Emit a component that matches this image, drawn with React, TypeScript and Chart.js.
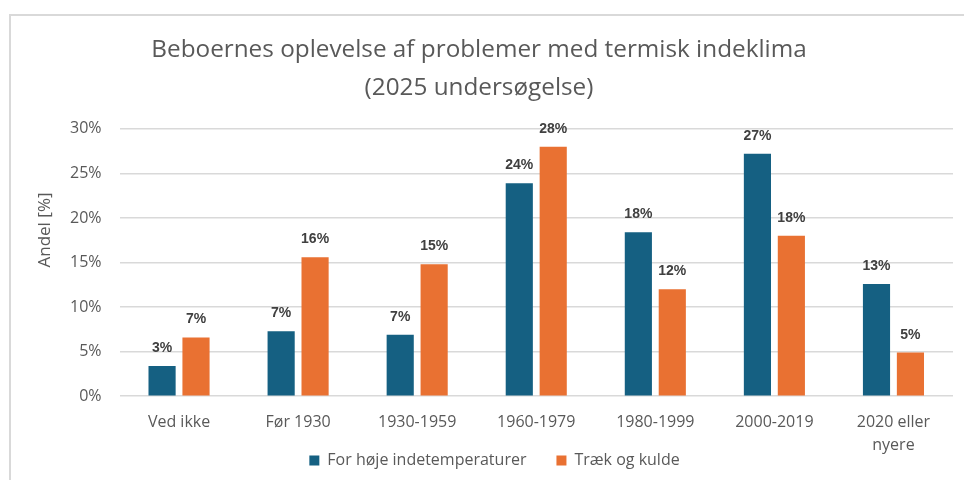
import React, { useEffect, useRef } from "react";
import { Chart, registerables } from "chart.js";

Chart.register(...registerables);

const titleLines = ["Beboernes oplevelse af problemer med termisk indeklima", "(2025 undersøgelse)"];
const categories = [["Ved ikke"], ["Før 1930"], ["1930-1959"], ["1960-1979"], ["1980-1999"], ["2000-2019"], ["2020 eller", "nyere"]];
const seriesNames = ["For høje indetemperaturer", "Træk og kulde"];
const hotValues = [3.4, 7.3, 6.9, 23.9, 18.4, 27.2, 12.6];
const draftValues = [6.6, 15.6, 14.8, 28.0, 12.0, 18.0, 4.9];
const yAxisTitle = "Andel [%]";
const yMin = 0;
const yMax = 30;
const yStep = 5;

const BLUE = "#156082";
const ORANGE = "#E97132";
const GRAY_TEXT = "#595959";
const FONT = "'Open Sans', Lato, sans-serif";

const valueLabels = {
  id: "valueLabels",
  afterDatasetsDraw(chart: any) {
    const ctx = chart.ctx;
    ctx.save();
    ctx.font = "bold 14px 'Liberation Sans', Arial, sans-serif";
    ctx.fillStyle = "#404040";
    ctx.textAlign = "center";
    ctx.textBaseline = "alphabetic";
    chart.data.datasets.forEach((ds: any, i: number) => {
      const meta = chart.getDatasetMeta(i);
      meta.data.forEach((bar: any, j: number) => {
        ctx.fillText(Math.round(ds.data[j]) + "%", bar.x, bar.y - 14);
      });
    });
    ctx.restore();
  },
};

const yTitlePlugin = {
  id: "yTitlePlugin",
  afterLayout(chart: any) {
    // centre the title over the whole figure rather than the padded box
    const t = chart.titleBlock;
    if (t) {
      const shift = 964 / 2 - 3 - (t.left + t.right) / 2;
      t.left += shift;
      t.right += shift;
    }
  },
  afterDraw(chart: any) {
    const ctx = chart.ctx;
    ctx.save();
    ctx.translate(45, 230);
    ctx.rotate(-Math.PI / 2);
    ctx.font = "17px " + FONT;
    ctx.fillStyle = GRAY_TEXT;
    ctx.textAlign = "center";
    ctx.textBaseline = "middle";
    ctx.fillText(yAxisTitle, 0, 0);
    ctx.restore();
  },
};

export default function App() {
  const ref = useRef<HTMLCanvasElement | null>(null);
  useEffect(() => {
    if (!ref.current) return;
    const chart = new Chart(ref.current, {
      type: "bar",
      data: {
        labels: categories as any,
        datasets: [
          { label: seriesNames[0], data: hotValues, backgroundColor: BLUE, categoryPercentage: 0.57, barPercentage: 0.8 },
          { label: seriesNames[1], data: draftValues, backgroundColor: ORANGE, categoryPercentage: 0.57, barPercentage: 0.8 },
        ],
      },
      options: {
        responsive: false,
        animation: false,
        devicePixelRatio: 1,
        layout: { padding: { left: 36, right: 11, top: 0, bottom: 1.5 } },
        plugins: {
          title: {
            display: true,
            text: titleLines,
            color: GRAY_TEXT,
            font: { family: "'Open Sans', sans-serif", size: 24.3, weight: "normal", lineHeight: 1.56 },
            padding: { top: 31, bottom: 22 },
          },
          legend: {
            position: "bottom",
            labels: {
              boxWidth: 10,
              boxHeight: 10,
              color: GRAY_TEXT,
              font: { family: FONT, size: 16 },
              padding: 30,
            },
          },
          tooltip: { enabled: false },
        },
        scales: {
          x: {
            afterFit(scale: any) {
              scale.height = 26.3;
              // let the two-line label run below the axis box
              scale._computeLabelArea = () => undefined;
            },
            grid: { display: false, drawTicks: false },
            border: { display: false },
            ticks: { color: GRAY_TEXT, font: { family: FONT, size: 16, lineHeight: 1.42 }, padding: 15, maxRotation: 0 },
          },
          y: {
            min: yMin,
            max: yMax,
            afterFit(scale: any) {
              scale.width = 83.5;
            },
            grid: { color: "#d9d9d9", lineWidth: 1.5, drawTicks: false },
            border: { display: false },
            ticks: {
              stepSize: yStep,
              color: GRAY_TEXT,
              font: { family: FONT, size: 16 },
              padding: 18,
              callback: (v: any) => v + "%",
            },
          },
        },
      },
      plugins: [valueLabels, yTitlePlugin],
    });
    return () => chart.destroy();
  }, []);
  return (
    <div>
      <div
        style={{
          position: "fixed",
          left: 9,
          top: 14,
          width: 1200,
          height: 800,
          border: "2px solid #d9d9d9",
          boxSizing: "border-box",
        }}
      />
      <canvas
        ref={ref}
        width={964}
        height={480}
        style={{ position: "fixed", left: 0, top: 0, width: 964, height: 480, display: "block" }}
      />
    </div>
  );
}
